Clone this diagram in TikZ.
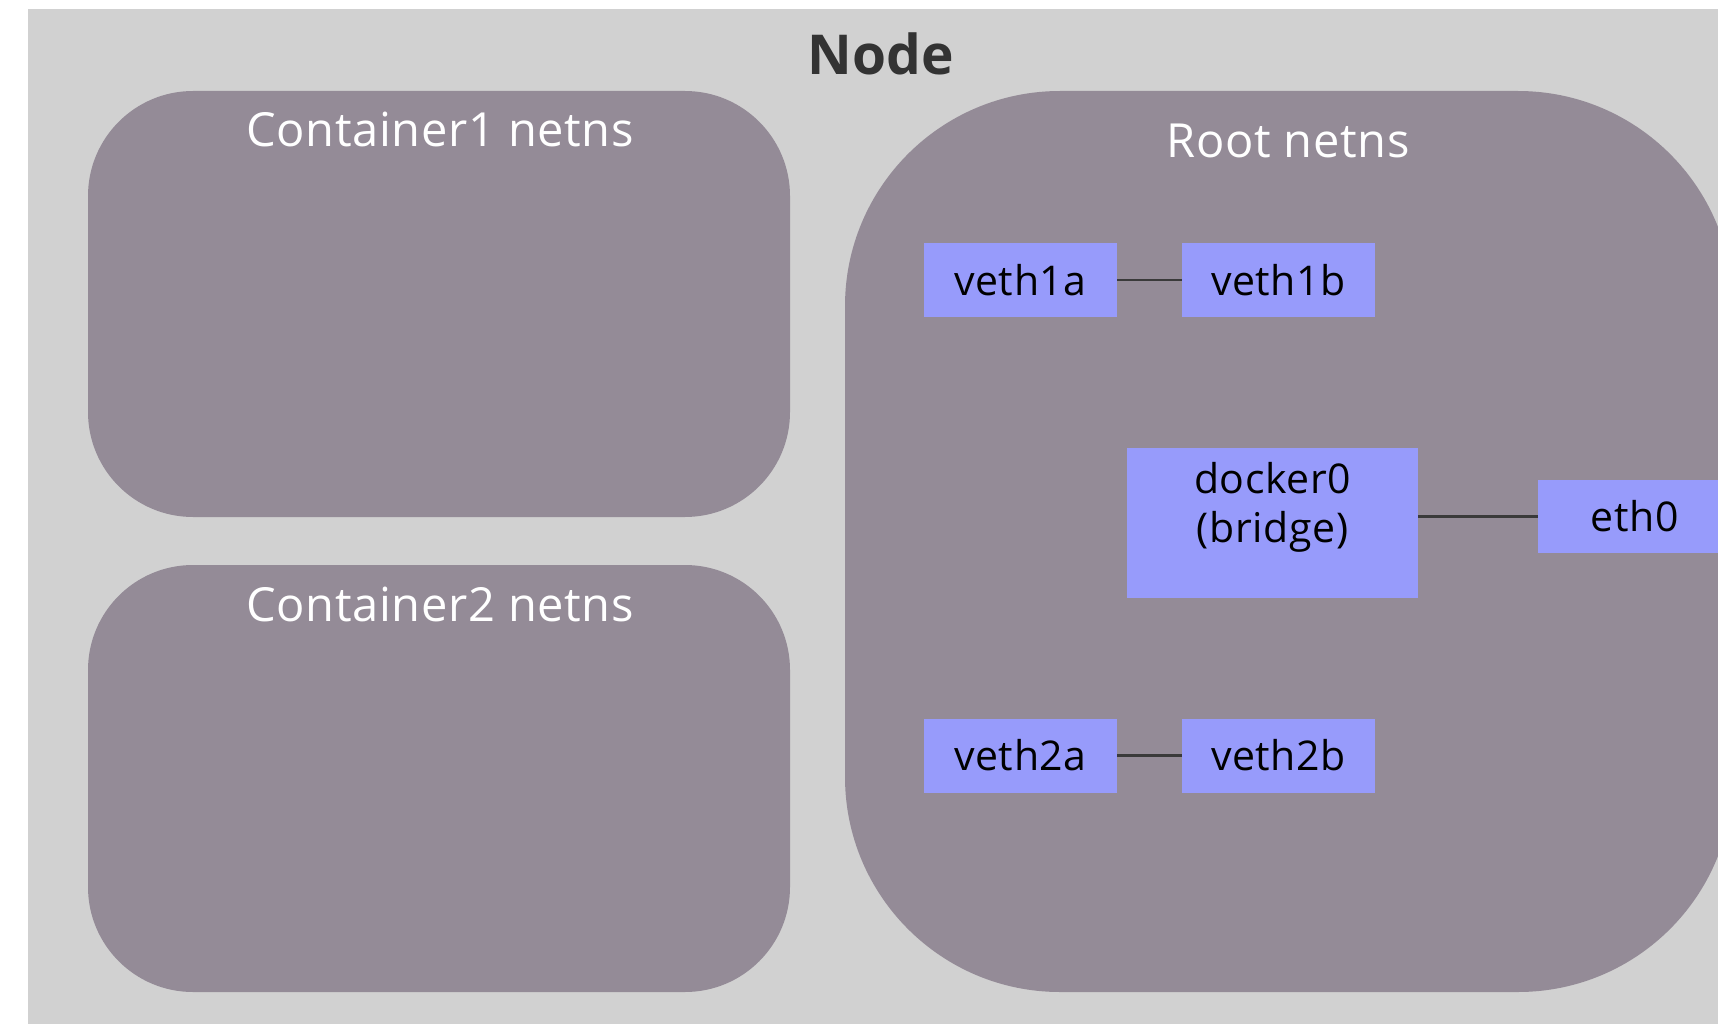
\documentclass[tikz,border=0pt]{standalone}
\usepackage{fontspec}
\setmainfont{Open Sans}
\definecolor{bggrey}{HTML}{D1D1D1}
\definecolor{nsfill}{HTML}{948B97}
\definecolor{ifblue}{HTML}{979BFB}
\definecolor{titlegrey}{HTML}{333333}
\definecolor{wire}{HTML}{3A3A3A}
\tikzset{
  nsbox/.style={fill=nsfill, draw=none, rounded corners=#1, inner sep=0pt},
  nslabel/.style={text=white, anchor=base, font=\fontsize{47}{56}\selectfont\addfontfeature{LetterSpace=1.5}},
  ifbox/.style={fill=ifblue, draw=none, inner sep=0pt, minimum width=193pt, minimum height=74pt,
                text=black, font=\fontsize{41}{49}\selectfont\addfontfeature{LetterSpace=1.5}},
  wireline/.style={draw=wire, line width=2.5pt}
}
\begin{document}
\begin{tikzpicture}[x=1pt, y=-1pt]
  \useasboundingbox (0,0) rectangle (1718,1024);
  \clip (0,0) rectangle (1718,1024);
  \fill[white] (0,0) rectangle (1718,1024);
  \node[fill=bggrey, inner sep=0pt, minimum width=1690pt, minimum height=1015pt, anchor=north west] (host) at (28,9) {};
  \node[anchor=base, text=titlegrey, font=\fontsize{55}{64}\selectfont\bfseries] (title) at (881,75) {Node};

  % network namespaces
  \node[nsbox=105pt, minimum width=702pt, minimum height=426pt] (c1) at (439,304) {};
  \node[nslabel] (c1label) at (440,147) {Container1 netns};
  \node[nsbox=105pt, minimum width=702pt, minimum height=427pt] (c2) at (439,778.5) {};
  \node[nslabel] (c2label) at (440,621) {Container2 netns};
  \node[nsbox=215pt, minimum width=888pt, minimum height=901pt] (root) at (1289,541.5) {};
  \node[nslabel] (rootlabel) at (1288,158) {Root netns};

  % interfaces
  \node[ifbox] (veth1a) at (1020.5,280) {veth1a};
  \node[ifbox] (veth1b) at (1278.5,280) {veth1b};
  \node[ifbox] (veth2a) at (1020.5,755.5) {veth2a};
  \node[ifbox] (veth2b) at (1278.5,755.5) {veth2b};
  \node[ifbox, minimum width=291pt, minimum height=150pt,
        label={[name=docklabel, align=center, yshift=16pt, text=black, font=\fontsize{41}{49}\selectfont\addfontfeature{LetterSpace=1.5}]center:docker0\\(bridge)}]
        (docker0) at (1272.5,523) {};
  \node[ifbox, minimum height=73pt] (eth0) at (1634.5,516.5) {eth0};

  % links
  \draw[wireline] (veth1a.east) -- (veth1b.west);
  \draw[wireline] (veth2a.east) -- (veth2b.west);
  \draw[wireline] (eth0.west -| docker0.east) -- (eth0.west);
\end{tikzpicture}
\end{document}
